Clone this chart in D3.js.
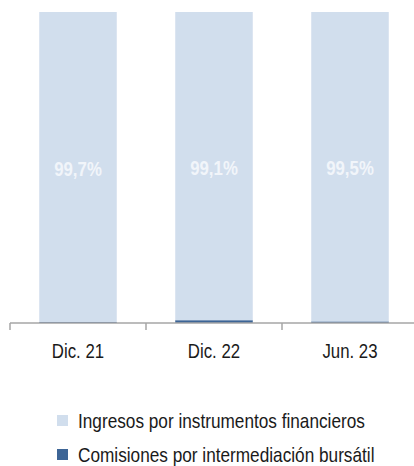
<!DOCTYPE html>
<html>
<head>
<meta charset="utf-8">
<script src="https://cdn.jsdelivr.net/npm/d3@7"></script>
<style>
  body { margin: 0; background: #fff; }
  svg { display: block; font-family: "Liberation Sans", Arial, sans-serif; }
</style>
</head>
<body>
<svg id="chart"></svg>
<script>
// data
var categories = ["Dic. 21", "Dic. 22", "Jun. 23"];
var ingresos = [99.7, 99.1, 99.5];
var comisiones = [0.3, 0.9, 0.5];
var labels = ["99,7%", "99,1%", "99,5%"];
var seriesNames = ["Ingresos por instrumentos financieros", "Comisiones por intermediación bursátil"];

var W = 414, H = 466;
var colors = {"comisiones": "#3d6596", "ingresos": "#d1deed"};
// no narrow font installed, so squeeze Liberation Sans horizontally
var narrow = "scale(0.82,1)";

var svg = d3.select("#chart")
    .attr("width", W)
    .attr("height", H);

var axisY = 323;

var x = d3.scaleBand()
    .domain(categories)
    .range([10, 418])
    .paddingInner(0.43)
    .paddingOuter(0.215);

var y = d3.scaleLinear()
    .domain([0, 100])
    .range([axisY, 12]);

var rows = categories.map(function(c, i) {
  return {cat: c, comisiones: comisiones[i], ingresos: ingresos[i], label: labels[i]};
});

var stack = d3.stack().keys(["comisiones", "ingresos"]);
var stacked = stack(rows);

svg.selectAll("g.layer")
    .data(stacked)
    .enter()
    .append("g")
    .attr("class", "layer")
    .attr("fill", function(d) { return colors[d.key]; })
    .selectAll("rect")
    .data(function(d) { return d; })
    .enter()
    .append("rect")
    .attr("x", function(d) { return x(d.data.cat); })
    .attr("y", function(d) { return y(d[1]); })
    .attr("width", x.bandwidth())
    .attr("height", function(d) { return y(d[0]) - y(d[1]); });

// value labels inside the big segment
svg.selectAll("text.val")
    .data(stacked[1])
    .enter()
    .append("text")
    .attr("class", "val")
    .attr("transform", function(d) {
      var cx = x(d.data.cat) + x.bandwidth() / 2;
      var cy = (y(d[0]) + y(d[1])) / 2 + 8.5;
      return "translate(" + cx + "," + cy + ") " + narrow;
    })
    .attr("text-anchor", "middle")
    .attr("font-size", "20.5px")
    .attr("font-weight", "bold")
    .attr("fill", "#f1f5fa")
    .text(function(d) { return d.data.label; });

// x axis: ticks between categories
var step = x.step();
var axis = d3.axisBottom(x).tickSize(0).tickPadding(0);
var gx = svg.append("g")
    .attr("transform", "translate(0," + axisY + ")")
    .call(axis);
gx.select(".domain").attr("stroke", "#a6a6a6").attr("stroke-width", 1.5)
    .attr("d", "M10,0H418");
gx.selectAll(".tick text")
    .attr("font-size", "20.5px")
    .attr("font-family", null)
    .attr("fill", "#1a1a1a")
    .attr("y", 0)
    .attr("dy", null)
    .attr("transform", "translate(0,34.5) " + narrow);

var edges = categories.map(function(c) { return x(c) - step * x.paddingInner() / 2; });
gx.selectAll("line.sep")
    .data(edges)
    .enter()
    .append("line")
    .attr("class", "sep")
    .attr("x1", function(d) { return d; })
    .attr("x2", function(d) { return d; })
    .attr("y1", 0)
    .attr("y2", 7)
    .attr("stroke", "#a6a6a6")
    .attr("stroke-width", 1.5);

// legend
var legendKeys = ["ingresos", "comisiones"];
var legend = svg.selectAll("g.leg")
    .data(seriesNames)
    .enter()
    .append("g")
    .attr("class", "leg")
    .attr("transform", function(d, i) { return "translate(57," + (415 + i * 34) + ")"; });

legend.append("rect")
    .attr("width", 11)
    .attr("height", 11)
    .attr("fill", function(d, i) { return colors[legendKeys[i]]; });

legend.append("text")
    .attr("transform", "translate(21,12.5) " + narrow)
    .attr("font-size", "21px")
    .attr("fill", "#1a1a1a")
    .text(function(d) { return d; });
</script>
</body>
</html>
